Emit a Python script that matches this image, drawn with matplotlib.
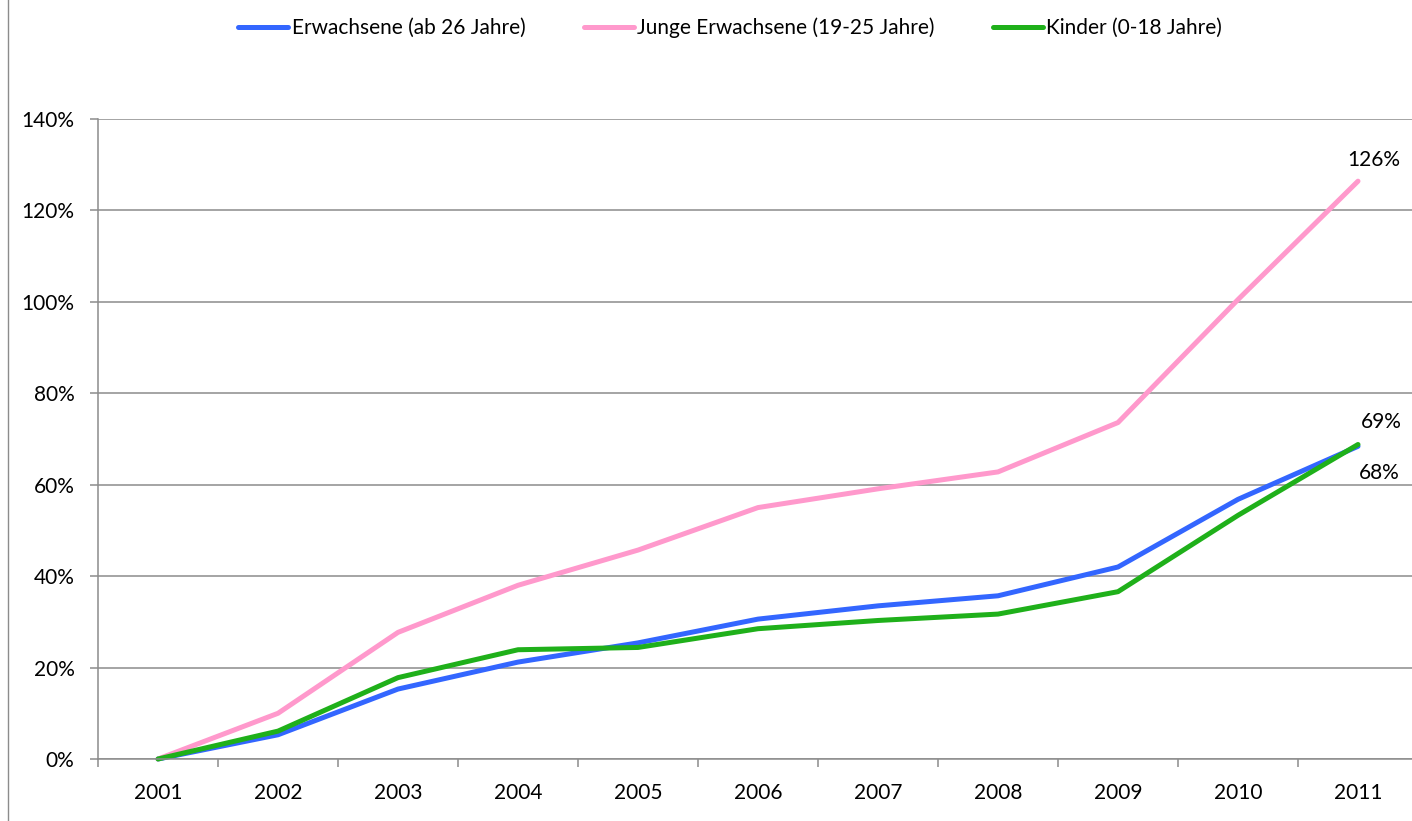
import matplotlib
matplotlib.use("Agg")
import matplotlib.pyplot as plt
from matplotlib.lines import Line2D
from matplotlib.ticker import FixedLocator, NullFormatter

plt.rcParams['font.family'] = ['Lato', 'DejaVu Sans']

years = ['2001', '2002', '2003', '2004', '2005', '2006', '2007', '2008', '2009', '2010', '2011']
erwachsene = [0.0, 5.3, 15.3, 21.2, 25.4, 30.6, 33.5, 35.7, 42.0, 56.8, 68.4]
junge = [0.0, 10.0, 27.7, 38.0, 45.7, 55.0, 59.1, 62.8, 73.6, 100.5, 126.4]
kinder = [0.0, 6.1, 17.8, 23.9, 24.4, 28.5, 30.3, 31.7, 36.6, 53.3, 68.8]

names = ['Erwachsene (ab 26 Jahre)', 'Junge Erwachsene (19-25 Jahre)', 'Kinder (0-18 Jahre)']
colors = ['#3366ff', '#ff99cc', '#1fb01a']
yticks = [0, 20, 40, 60, 80, 100, 120, 140]

W, H = 1412, 821
FS = 15
fig = plt.figure(figsize=(W / 100, H / 100), dpi=100)
ax = fig.add_axes([98 / W, 1 - 759 / H, (1418 - 98) / W, (759 - 119) / H])

x = list(range(len(years)))
lines = []
for vals, c, n in zip([erwachsene, junge, kinder], colors, names):
    ln, = ax.plot(x, vals, color=c, lw=3.6, solid_capstyle='round', solid_joinstyle='round', label=n, clip_on=False)
    lines.append(ln)

ax.set_xlim(-0.5, len(years) - 0.5)
ax.set_ylim(0, 140)

ax.set_yticks(yticks)
ax.set_yticklabels([f'{v}%' for v in yticks])
ax.yaxis.grid(True, color='#8c8c8c', lw=1.1)
ax.set_axisbelow(True)

ax.set_xticks(x)
ax.set_xticklabels(years)
ax.tick_params(axis='x', which='major', length=0, pad=17, labelsize=FS, colors='black')
ax.xaxis.set_minor_locator(FixedLocator([i - 0.5 for i in range(len(years) + 1)]))
ax.xaxis.set_minor_formatter(NullFormatter())
ax.tick_params(axis='x', which='minor', length=6, width=1.1, color='#8c8c8c')
ax.tick_params(axis='y', length=6, width=1.1, color='#8c8c8c', pad=11, labelsize=FS)

for s in ['top', 'right']:
    ax.spines[s].set_visible(False)
for s in ['left', 'bottom']:
    ax.spines[s].set_color('#8c8c8c')
    ax.spines[s].set_linewidth(1.1)

# end labels
ax.annotate(f'{round(junge[-1])}%', (x[-1], junge[-1]), xytext=(11, 15), textcoords='offset points',
            ha='center', va='center', fontsize=FS)
ax.annotate(f'{round(kinder[-1])}%', (x[-1], kinder[-1]), xytext=(17, 16), textcoords='offset points',
            ha='center', va='center', fontsize=FS)
ax.annotate(f'{round(erwachsene[-1])}%', (x[-1], erwachsene[-1]), xytext=(15, -19), textcoords='offset points',
            ha='center', va='center', fontsize=FS)

fig.legend(handles=lines, loc='center', bbox_to_anchor=(0.5 + 24 / W, 1 - 28 / H), ncol=3, frameon=False,
           fontsize=FS, handlelength=2.4, handletextpad=0.15, columnspacing=2.8)

fig.add_artist(Line2D([7.5 / W, 7.5 / W], [0, 1], transform=fig.transFigure, color='#8c8c8c', lw=1))

fig.savefig('out.png', dpi=100)
